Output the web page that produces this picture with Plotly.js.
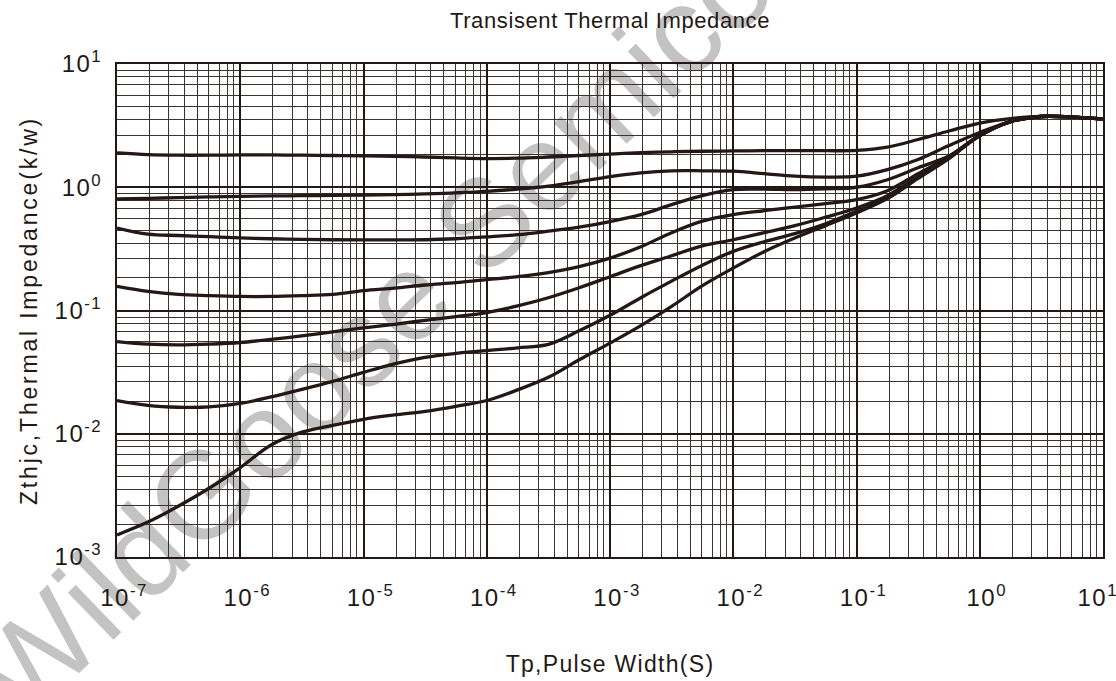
<!DOCTYPE html>
<html>
<head>
<meta charset="utf-8">
<script src="https://cdn.plot.ly/plotly-3.0.1.min.js"></script>
<style>
  html, body { margin: 0; padding: 0; background: #ffffff; }
  #chart { width: 1116px; height: 681px; }
  .gtitle { letter-spacing: 0.6px; }
  .xtitle { letter-spacing: 1.3px; }
  .ytitle { letter-spacing: 2.8px; }
  .xtick text, .ytick text { letter-spacing: 1.5px; }
</style>
</head>
<body>
<div id="chart"></div>
<script>
// ---- Data ----
const pulseWidth = [1e-7, 1.78e-7, 3.16e-7, 5.62e-7, 1e-6, 1.78e-6, 3.16e-6, 5.62e-6,
                    1e-5, 1.78e-5, 3.16e-5, 5.62e-5, 1e-4, 1.78e-4, 3.16e-4, 5.62e-4,
                    1e-3, 1.78e-3, 3.16e-3, 5.62e-3, 1e-2, 1.78e-2, 3.16e-2, 5.62e-2,
                    0.1, 0.178, 0.316, 0.562, 1, 1.78, 3.16, 5.62, 10];

const curveA = [1.90, 1.84, 1.82, 1.82, 1.83, 1.83, 1.82, 1.81, 1.80, 1.78, 1.76, 1.73, 1.71, 1.72, 1.76, 1.81,
                1.86, 1.91, 1.94, 1.96, 1.97, 1.98, 1.98, 1.98, 1.99, 2.12, 2.44, 2.86, 3.32, 3.61, 3.75, 3.71, 3.59];
const curveB = [0.804, 0.813, 0.823, 0.834, 0.844, 0.850, 0.855, 0.859, 0.864, 0.871, 0.882, 0.901, 0.926, 0.965, 1.02, 1.11,
                1.22, 1.31, 1.36, 1.36, 1.35, 1.29, 1.23, 1.21, 1.23, 1.39, 1.68, 2.18, 2.78, 3.41, 3.75, 3.71, 3.59];
const curveC = [0.467, 0.416, 0.406, 0.397, 0.388, 0.382, 0.378, 0.375, 0.374, 0.374, 0.375, 0.382, 0.395, 0.412, 0.440, 0.474,
                0.526, 0.599, 0.722, 0.855, 0.956, 0.965, 0.956, 0.971, 1.00, 1.15, 1.44, 1.79, 2.63, 3.41, 3.75, 3.71, 3.59];
const curveD = [0.157, 0.143, 0.135, 0.132, 0.130, 0.130, 0.132, 0.135, 0.145, 0.152, 0.161, 0.168, 0.178, 0.188, 0.203, 0.227,
                0.266, 0.329, 0.428, 0.531, 0.599, 0.645, 0.689, 0.736, 0.793, 0.938, 1.29, 1.77, 2.63, 3.41, 3.75, 3.71, 3.59];
const curveE = [0.0560, 0.0533, 0.0526, 0.0534, 0.0550, 0.0583, 0.0623, 0.0671, 0.0724, 0.0773, 0.0833, 0.0892, 0.0963, 0.109, 0.127, 0.153,
                0.188, 0.231, 0.278, 0.335, 0.375, 0.428, 0.488, 0.572, 0.679, 0.855, 1.22, 1.74, 2.63, 3.41, 3.75, 3.71, 3.59];
const curveF = [0.0186, 0.0170, 0.0164, 0.0165, 0.0176, 0.0199, 0.0229, 0.0266, 0.0315, 0.0369, 0.0417, 0.0449, 0.0473, 0.0498, 0.0531, 0.0684,
                0.0914, 0.127, 0.173, 0.233, 0.302, 0.361, 0.420, 0.506, 0.637, 0.823, 1.20, 1.72, 2.63, 3.41, 3.75, 3.71, 3.59];
const curveG = [0.00151, 0.00192, 0.00259, 0.00363, 0.00532, 0.00811, 0.0103, 0.0117, 0.0131, 0.0142, 0.0152, 0.0167, 0.0186, 0.0227, 0.0287, 0.0398,
                0.0544, 0.0754, 0.108, 0.159, 0.221, 0.300, 0.387, 0.488, 0.618, 0.808, 1.18, 1.71, 2.63, 3.41, 3.75, 3.71, 3.59];

const xTickVals = [1e-7, 1e-6, 1e-5, 1e-4, 1e-3, 1e-2, 1e-1, 1, 10];
const xTickText = ['10<sup>-7</sup>', '10<sup>-6</sup>', '10<sup>-5</sup>', '10<sup>-4</sup>', '10<sup>-3</sup>',
                   '10<sup>-2</sup>', '10<sup>-1</sup>', '10<sup>0</sup>', '10<sup>1</sup>\u00a0\u00a0\u00a0'];
const yTickVals = [1e-3, 1e-2, 1e-1, 1, 10];
const yTickText = ['10<sup>-3</sup>', '10<sup>-2</sup>', '10<sup>-1</sup>', '10<sup>0</sup>', '10<sup>1</sup>'];

const chartTitle = 'Transisent Thermal Impedance';
const xTitle = 'Tp,Pulse Width(S)';
const yTitle = 'Zthjc,Thermal Impedance(k/w)';
const watermark = 'WildGoose Semiconductor';

// ---- Style ----
const INK = '#231815';
const FONT = 'Liberation Sans, Arial, Helvetica, sans-serif';
// positions of the 8 minor grid lines inside each decade (fraction of a decade, as drawn on the sheet)
const minorFrac = [0.265, 0.42, 0.547, 0.652, 0.745, 0.83, 0.895, 0.946];
function minorVals(lo, hi) {
  const v = [];
  for (let d = lo; d < hi; d++) for (const f of minorFrac) v.push(Math.pow(10, d + f));
  return v;
}

const series = [curveA, curveB, curveC, curveD, curveE, curveF, curveG];
const traces = series.map(ys => ({
  x: pulseWidth, y: ys, type: 'scatter', mode: 'lines',
  line: { color: INK, width: 3.3, shape: 'spline', smoothing: 1 },
  hoverinfo: 'x+y', showlegend: false
}));

const axisCommon = {
  type: 'log', showline: true, mirror: true, linecolor: INK, linewidth: 2,
  showgrid: true, gridcolor: INK, gridwidth: 2, zeroline: false,
  ticks: '', tickmode: 'array', ticklabeloverflow: 'allow',
  tickfont: { family: FONT, size: 24, color: INK },
  automargin: false, fixedrange: true
};

const layout = {
  width: 1116, height: 681, autosize: false,
  margin: { l: 117, r: 13, t: 64, b: 124, pad: 0 },
  paper_bgcolor: '#ffffff', plot_bgcolor: 'rgba(0,0,0,0)',
  showlegend: false,
  title: {
    text: chartTitle, font: { family: FONT, size: 22, color: INK },
    xref: 'paper', x: 0.5, xanchor: 'center', yref: 'container', y: 0.970, yanchor: 'middle'
  },
  xaxis: Object.assign({}, axisCommon, {
    range: [-7, 1], tickvals: xTickVals, ticktext: xTickText,
    ticklabelstandoff: 18, ticklabelshift: 7,
    minor: { tickmode: 'array', tickvals: minorVals(-7, 1), showgrid: true, gridcolor: '#3b3331', gridwidth: 1, ticks: '' },
    title: { text: xTitle, font: { family: FONT, size: 23, color: INK }, standoff: 46 }
  }),
  yaxis: Object.assign({}, axisCommon, {
    range: [-3, 1], tickvals: yTickVals, ticktext: yTickText,
    ticklabelstandoff: 8,
    minor: { tickmode: 'array', tickvals: minorVals(-3, 1), showgrid: true, gridcolor: '#3b3331', gridwidth: 1, ticks: '' },
    title: { text: yTitle, font: { family: FONT, size: 23, color: INK }, standoff: 11 }
  }),
  shapes: [{
    type: 'line', xref: 'paper', yref: 'paper', layer: 'below',
    x0: -0.0851, y0: -0.3651, x1: 0.6441, y1: 1.0446,
    line: { color: 'rgba(0,0,0,0)', width: 0 },
    label: { text: watermark, textposition: 'start', textangle: 'auto', yanchor: 'bottom', padding: 0,
             font: { family: FONT, size: 124, color: '#c3c3c3' } }
  }]
};

Plotly.newPlot('chart', traces, layout, { staticPlot: true, displayModeBar: false });
</script>
</body>
</html>
